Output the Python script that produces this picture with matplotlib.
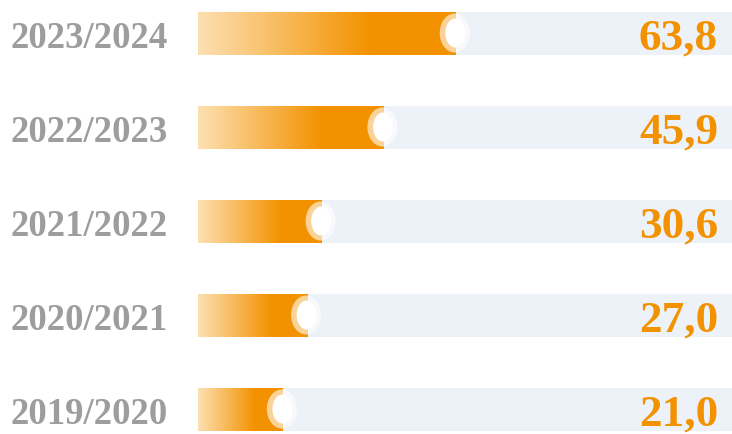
import numpy as np
import matplotlib.pyplot as plt
from matplotlib.colors import LinearSegmentedColormap
from matplotlib.patches import Ellipse
from matplotlib.transforms import blended_transform_factory

# school years, top to bottom
years = ['2023/2024', '2022/2023', '2021/2022', '2020/2021', '2019/2020']
values = [63.8, 45.9, 30.6, 27.0, 21.0]
labels = ['63,8', '45,9', '30,6', '27,0', '21,0']

orange = '#f39200'
light = '#fde0b2'
track = '#edf1f8'
grey = '#9d9d9d'

W, H = 732, 435
fig = plt.figure(figsize=(W / 100, H / 100), dpi=100)

# bar area: from x=198px to the right edge
x0 = 198
px_per_unit = 4.04
ax = fig.add_axes([x0 / W, 0, 1 - x0 / W, 1])
xmax = (W - x0) / px_per_unit
row_px = 94.0
top_px = 34
ax.axis('off')

bh = 43 / row_px
ypos = np.arange(len(years))

ax.barh(ypos, xmax, height=bh, color=track, left=0, zorder=1)

cmap = LinearSegmentedColormap.from_list('fade', [(0, light), (0.67, orange), (1, orange)])
grad = np.linspace(0, 1, 256).reshape(1, -1)
for y, v in zip(ypos, values):
    ax.imshow(grad, cmap=cmap, aspect='auto', interpolation='bicubic',
              extent=[0, v, y + bh / 2, y - bh / 2], zorder=2)
    # knob at the end of the bar
    ax.add_patch(Ellipse((v - 0.25, y), 30 / px_per_unit, 39 / row_px,
                         facecolor='white', alpha=0.6, edgecolor='none', zorder=3))
    ax.add_patch(Ellipse((v - 0.1, y), 20 / px_per_unit, 29 / row_px,
                         facecolor='white', edgecolor='none', zorder=4))

ax.set_xlim(0, xmax)
ax.set_ylim((H - top_px) / row_px, -top_px / row_px)

tr = blended_transform_factory(fig.transFigure, ax.transData)
for y, yr, lab in zip(ypos, years, labels):
    fig.text(10 / W, y, yr, transform=tr, ha='left', va='center_baseline',
             fontsize=26.5, fontweight='bold', family='Liberation Serif', color=grey)
    fig.text(718 / W, y, lab, transform=tr, ha='right', va='center_baseline',
             fontsize=32.5, fontweight='bold', family='Liberation Serif', color=orange,
             zorder=5)

fig.savefig('out.png', dpi=100)
